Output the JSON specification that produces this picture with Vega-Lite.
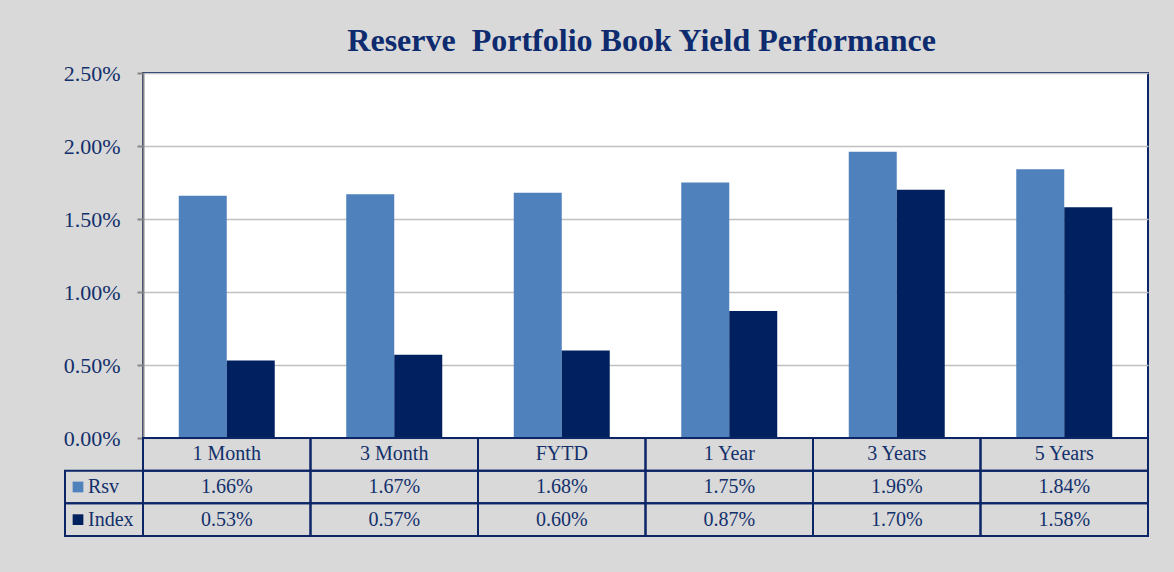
{
  "$schema": "https://vega.github.io/schema/vega-lite/v6.json",
  "autosize": {"type": "none"},
  "padding": {"left": 65, "top": 73, "right": 1109, "bottom": 499},
  "background": "#d9d9d9",
  "title": {
    "text": "Reserve\u00a0 Portfolio Book Yield Performance",
    "anchor": "middle",
    "font": "Liberation Serif",
    "fontSize": 32,
    "fontWeight": "bold",
    "color": "#0d2b6e",
    "dx": 36,
    "offset": 3
  },
  "data": {
    "values": [
      {"period": "1 Month", "series": "Rsv", "value": 0.0166},
      {"period": "1 Month", "series": "Index", "value": 0.0053},
      {"period": "3 Month", "series": "Rsv", "value": 0.0167},
      {"period": "3 Month", "series": "Index", "value": 0.0057},
      {"period": "FYTD", "series": "Rsv", "value": 0.0168},
      {"period": "FYTD", "series": "Index", "value": 0.0060},
      {"period": "1 Year", "series": "Rsv", "value": 0.0175},
      {"period": "1 Year", "series": "Index", "value": 0.0087},
      {"period": "3 Years", "series": "Rsv", "value": 0.0196},
      {"period": "3 Years", "series": "Index", "value": 0.0170},
      {"period": "5 Years", "series": "Rsv", "value": 0.0184},
      {"period": "5 Years", "series": "Index", "value": 0.0158}
    ]
  },
  "columns": 2,
  "spacing": 0,
  "bounds": "flush",
  "concat": [
    {
      "width": 78,
      "height": 365,
      "view": {"stroke": null, "fill": null},
      "mark": {"type": "rect", "opacity": 0},
      "encoding": {}
    },
    {
      "width": 1005,
      "height": 365,
      "view": {"fill": "#ffffff", "stroke": "#0b2566", "strokeWidth": 2},
      "mark": {"type": "bar"},
      "encoding": {
        "x": {
          "field": "period",
          "type": "nominal",
          "sort": ["1 Month", "3 Month", "FYTD", "1 Year", "3 Years", "5 Years"],
          "scale": {"paddingInner": 0.427, "paddingOuter": 0.2135},
          "axis": null
        },
        "xOffset": {
          "field": "series",
          "type": "nominal",
          "sort": ["Rsv", "Index"],
          "scale": {"paddingInner": 0, "paddingOuter": 0}
        },
        "y": {
          "field": "value",
          "type": "quantitative",
          "scale": {"domain": [0, 0.025], "nice": false},
          "axis": {
            "title": null,
            "values": [0, 0.005, 0.01, 0.015, 0.02, 0.025],
            "format": ".2%",
            "labelFont": "Liberation Serif",
            "labelFontSize": 22,
            "labelColor": "#12306b",
            "labelPadding": 17,
            "domainColor": "#868686",
            "domainWidth": 2,
            "tickColor": "#868686",
            "tickWidth": 2,
            "tickSize": 6,
            "gridColor": "#c0c0c0",
            "gridWidth": 1.5
          }
        },
        "color": {
          "field": "series",
          "type": "nominal",
          "scale": {"domain": ["Rsv", "Index"], "range": ["#4f81bd", "#002060"]},
          "legend": null
        }
      }
    },
    {
      "width": 78,
      "height": 98,
      "view": {"stroke": null, "fill": null},
      "transform": [{"filter": "datum.period === '1 Month'"}],
      "encoding": {
        "y": {
          "field": "series",
          "type": "nominal",
          "scale": {"domain": ["header", "Rsv", "Index"], "paddingInner": 0, "paddingOuter": 0},
          "axis": null
        }
      },
      "layer": [
        {
          "mark": {"type": "rect", "fill": null, "stroke": "#0b2566", "strokeWidth": 2},
          "encoding": {
            "x": {"value": 0},
            "x2": {"value": 78}
          }
        },
        {
          "mark": {"type": "point", "shape": "square", "filled": true, "size": 115, "opacity": 1, "xOffset": -26},
          "encoding": {
            "color": {
              "field": "series",
              "type": "nominal",
              "scale": {"domain": ["Rsv", "Index"], "range": ["#4f81bd", "#002060"]},
              "legend": null
            }
          }
        },
        {
          "mark": {"type": "text", "align": "left", "baseline": "middle", "dx": -16, "font": "Liberation Serif", "fontSize": 20, "color": "#12306b"},
          "encoding": {
            "text": {"field": "series", "type": "nominal"}
          }
        }
      ]
    },
    {
      "width": 1005,
      "height": 98,
      "view": {"stroke": null, "fill": null},
      "encoding": {
        "x": {
          "field": "period",
          "type": "nominal",
          "scale": {"domain": ["1 Month", "3 Month", "FYTD", "1 Year", "3 Years", "5 Years"], "paddingInner": 0, "paddingOuter": 0},
          "axis": null
        }
      },
      "layer": [
        {
          "transform": [{"filter": "datum.series === 'Rsv'"}],
          "mark": {"type": "rect", "fill": null, "stroke": "#0b2566", "strokeWidth": 2},
          "encoding": {
            "y": {
              "datum": "header",
              "type": "nominal",
              "scale": {"domain": ["header", "Rsv", "Index"], "paddingInner": 0, "paddingOuter": 0},
              "axis": null
            }
          }
        },
        {
          "transform": [{"filter": "datum.series === 'Rsv'"}],
          "mark": {"type": "text", "baseline": "middle", "font": "Liberation Serif", "fontSize": 20, "color": "#12306b"},
          "encoding": {
            "y": {"datum": "header", "type": "nominal"},
            "text": {"field": "period", "type": "nominal"}
          }
        },
        {
          "mark": {"type": "rect", "fill": null, "stroke": "#0b2566", "strokeWidth": 2},
          "encoding": {
            "y": {"field": "series", "type": "nominal"}
          }
        },
        {
          "mark": {"type": "text", "baseline": "middle", "font": "Liberation Serif", "fontSize": 20, "color": "#12306b"},
          "encoding": {
            "y": {"field": "series", "type": "nominal"},
            "text": {"field": "value", "type": "quantitative", "format": ".2%"}
          }
        }
      ]
    }
  ]
}
